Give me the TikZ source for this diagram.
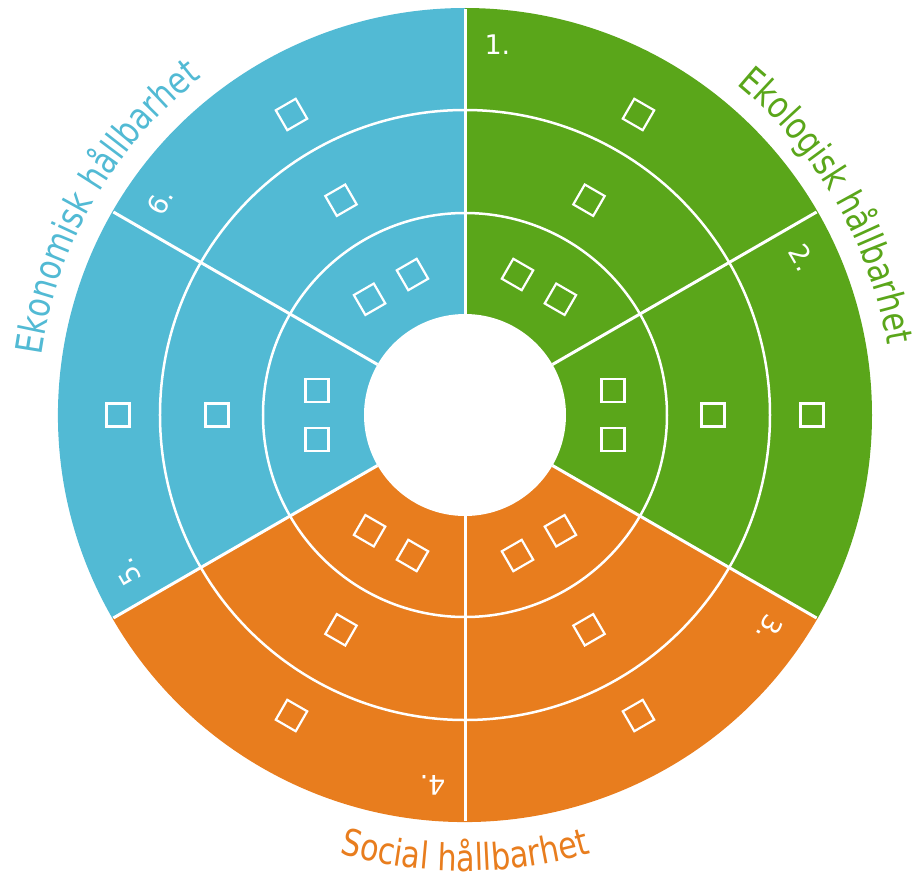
\documentclass[tikz,border=0pt]{standalone}
\usepackage{fontspec}
\setmainfont{DejaVu Sans}
\newfontfamily\lblfont[FakeStretch=0.82]{DejaVu Sans}
\usetikzlibrary{decorations.text}
\definecolor{ecoBlue}{HTML}{52BAD4}
\definecolor{ecoGreen}{HTML}{5AA61A}
\definecolor{socOrange}{HTML}{E87D1E}
\newcommand{\lblsize}{\lblfont\fontsize{18.5pt}{22pt}\selectfont}

\begin{document}
\begin{tikzpicture}[x=0.5pt, y=0.5pt,
  sq/.style={rectangle,draw=white,line width=1.1pt,minimum size=11.5pt,inner sep=0pt},
  num/.style={text=white,font=\fontsize{13.5pt}{16pt}\selectfont,inner sep=0pt},
  ring/.style={draw=white,line width=1.25pt},
  divider/.style={draw=white,line width=1.5pt},
  lbl/.style={decorate,decoration={text along path,text align=center,text={#1}}}]
\useasboundingbox (-465,-464) rectangle (450,415);
% sectors
\fill[ecoGreen] (0,0) -- (90:407) arc[start angle=90,end angle=-30,radius=407] -- cycle;
\fill[socOrange] (0,0) -- (-30:407) arc[start angle=-30,end angle=-150,radius=407] -- cycle;
\fill[ecoBlue] (0,0) -- (210:407) arc[start angle=210,end angle=90,radius=407] -- cycle;
% rings and dividers
\fill[white] (0,0) circle[radius=101];
\draw[ring] (0,0) circle[radius=202];
\draw[ring] (0,0) circle[radius=305];
\foreach \a in {90,30,...,-210} \draw[divider] (\a:101) -- (\a:406);
% numbers
\node[num] (n1) at (85:372) {1.};
\node[num,rotate=-60] (n2) at (25:372) {2.};
\node[num,rotate=-120] (n3) at (-35:372) {3.};
\node[num,rotate=180] (n4) at (-95:372) {4.};
\node[num,rotate=120] (n5) at (-155:372) {5.};
\node[num,rotate=60] (n6) at (145:372) {6.};
% boxes
\node[sq,rotate=60] (s1a) at (60:347) {};
\node[sq,rotate=60] (s1b) at (60:248) {};
\node[sq,rotate=60] (s1c) at (69.5:150) {};
\node[sq,rotate=60] (s1d) at (50.5:150) {};
\node[sq] (s2a) at (0:347) {};
\node[sq] (s2b) at (0:248) {};
\node[sq] (s2c) at (9.5:150) {};
\node[sq] (s2d) at (-9.5:150) {};
\node[sq,rotate=-60] (s3a) at (-60:347) {};
\node[sq,rotate=-60] (s3b) at (-60:248) {};
\node[sq,rotate=-60] (s3c) at (-50.5:150) {};
\node[sq,rotate=-60] (s3d) at (-69.5:150) {};
\node[sq,rotate=-120] (s4a) at (-120:347) {};
\node[sq,rotate=-120] (s4b) at (-120:248) {};
\node[sq,rotate=-120] (s4c) at (-110.5:150) {};
\node[sq,rotate=-120] (s4d) at (-129.5:150) {};
\node[sq] (s5a) at (180:347) {};
\node[sq] (s5b) at (180:248) {};
\node[sq] (s5c) at (170.5:150) {};
\node[sq] (s5d) at (189.5:150) {};
\node[sq,rotate=120] (s6a) at (120:347) {};
\node[sq,rotate=120] (s6b) at (120:248) {};
\node[sq,rotate=120] (s6c) at (129.5:150) {};
\node[sq,rotate=120] (s6d) at (110.5:150) {};
% labels
\path[lbl={|\lblsize\color{ecoGreen}|Ekologisk hållbarhet}] (60:428) arc[start angle=60,end angle=0,radius=428];
\path[lbl={|\lblsize\color{socOrange}|Social hållbarhet}] (240:456) arc[start angle=240,end angle=300,radius=456];
\path[lbl={|\lblsize\color{ecoBlue}|Ekonomisk hållbarhet}] (180:428) arc[start angle=180,end angle=120,radius=428];
\end{tikzpicture}
\end{document}
